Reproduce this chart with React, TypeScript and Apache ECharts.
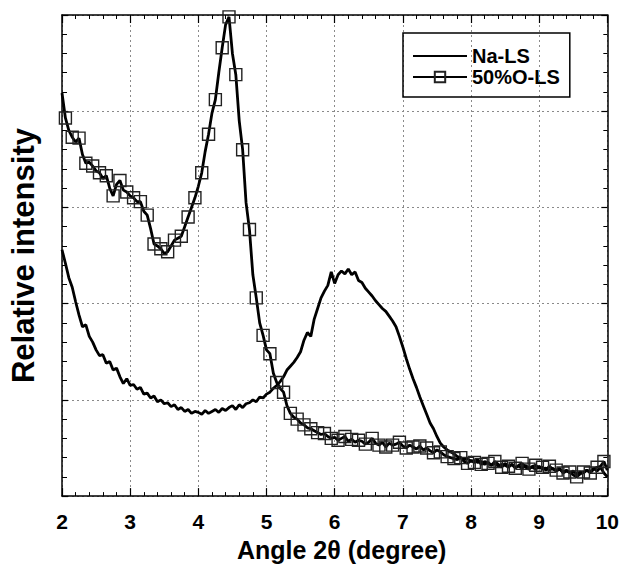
import React, { useEffect, useRef } from "react";
import * as echarts from "echarts";

const X_START = 2;
const X_STEP = 0.05;

const naLS = [
  2.56, 2.42, 2.27, 2.17, 2.02, 1.88, 1.76, 1.78, 1.66, 1.6, 1.52, 1.46, 1.47, 1.38, 1.4, 1.31, 1.33, 1.24, 1.17, 1.22,
  1.15, 1.16, 1.11, 1.13, 1.06, 1.07, 1.02, 1.04, 0.98, 1.0, 0.96, 0.97, 0.93, 0.95, 0.9, 0.92, 0.88, 0.9, 0.86, 0.88,
  0.87, 0.85, 0.89, 0.86, 0.88, 0.9, 0.87, 0.91, 0.89, 0.92, 0.94, 0.9, 0.95, 0.92, 0.96, 0.97, 1.0, 0.98, 1.03, 1.02,
  1.06, 1.08, 1.12, 1.15, 1.19, 1.24, 1.31, 1.35, 1.39, 1.44, 1.5, 1.62, 1.7, 1.66, 1.84, 1.95, 2.06, 2.13, 2.19, 2.33,
  2.21, 2.3, 2.34, 2.31, 2.36, 2.3, 2.33, 2.24, 2.22, 2.16, 2.12, 2.08, 2.03, 1.99, 1.95, 1.92, 1.87, 1.82, 1.76, 1.66,
  1.55, 1.43, 1.32, 1.22, 1.13, 1.03, 0.94, 0.85, 0.76, 0.7, 0.62, 0.55, 0.51, 0.48, 0.46, 0.44, 0.41, 0.4, 0.38, 0.39,
  0.36, 0.37, 0.35, 0.36, 0.33, 0.35, 0.32, 0.34, 0.31, 0.33, 0.32, 0.3, 0.33, 0.3, 0.31, 0.29, 0.32, 0.29, 0.3, 0.28,
  0.31, 0.28, 0.29, 0.27, 0.29, 0.26, 0.28, 0.25, 0.27, 0.24, 0.26, 0.23, 0.25, 0.24, 0.27, 0.25, 0.29, 0.26, 0.3, 0.24,
  0.2,
];

const olLS = [
  4.19, 3.93, 3.8, 3.73, 3.68, 3.72, 3.55, 3.46, 3.47, 3.43, 3.38, 3.36, 3.3, 3.33, 3.2, 3.12, 3.24, 3.28, 3.18, 3.16,
  3.12, 3.1, 3.06, 3.06, 2.96, 2.92, 2.78, 2.62, 2.6, 2.57, 2.52, 2.54, 2.6, 2.66, 2.68, 2.7, 2.8, 2.9, 3.0, 3.1,
  3.22, 3.36, 3.58, 3.76, 3.98, 4.12, 4.4, 4.66, 4.9, 4.98, 4.6, 4.38, 3.9, 3.6, 3.05, 2.77, 2.3, 2.06, 1.8, 1.67,
  1.52, 1.48, 1.28, 1.18, 1.12, 1.08, 0.94, 0.86, 0.82, 0.8, 0.76, 0.74, 0.71, 0.7, 0.68, 0.66, 0.64, 0.65, 0.62, 0.6,
  0.61, 0.58, 0.6, 0.62, 0.57, 0.59, 0.56, 0.58, 0.57, 0.54, 0.56, 0.6, 0.55, 0.53, 0.56, 0.51, 0.55, 0.53, 0.54, 0.56,
  0.52, 0.5, 0.53, 0.51, 0.49, 0.52, 0.48, 0.5, 0.47, 0.45, 0.48, 0.46, 0.43, 0.41, 0.4, 0.39, 0.38, 0.4, 0.36, 0.34,
  0.37, 0.35, 0.38, 0.33, 0.36, 0.34, 0.32, 0.36, 0.33, 0.3, 0.34, 0.31, 0.33, 0.29, 0.32, 0.34, 0.3, 0.28, 0.31, 0.32,
  0.29, 0.3, 0.27, 0.31, 0.28, 0.27, 0.29, 0.24, 0.26, 0.25, 0.22, 0.2, 0.23, 0.25, 0.27, 0.24, 0.28, 0.3, 0.31, 0.36,
  0.27,
];

const xTicks = [2, 3, 4, 5, 6, 7, 8, 9, 10];

const FONT = "'Liberation Sans', Arial, sans-serif";

export default function App() {
  const ref = useRef<HTMLDivElement>(null);
  useEffect(() => {
    if (!ref.current) return;
    const chart = echarts.init(ref.current, null, { renderer: "svg" });
    const xAt = (i: number) => +(X_START + i * X_STEP).toFixed(2);
    const naData = naLS.map((v, i) => [xAt(i), v]);
    const olData = olLS.map((v, i) => ({
      value: [xAt(i), v],
      symbol: i % 2 === 1 ? "rect" : "none",
    }));

    const gridLine = { show: true, lineStyle: { color: "#8a8a8a", type: [2, 3] as any, width: 1 } };
    const axisLine = { show: true, onZero: false, lineStyle: { color: "#000", width: 1.5 } };

    chart.setOption({
      animation: false,
      backgroundColor: "#fff",
      grid: { left: 59, right: 12, top: 15, bottom: 70, containLabel: false },
      legend: {
        show: true,
        left: 403,
        top: 33,
        orient: "vertical",
        borderColor: "#000",
        borderWidth: 1.5,
        borderRadius: 0,
        padding: [13, 10, 10, 9],
        itemWidth: 54,
        itemHeight: 13,
        itemGap: 1,
        textStyle: { fontFamily: FONT, fontWeight: "bold", fontSize: 20, color: "#000" },
        data: [
          { name: "Na-LS", itemStyle: { color: "rgba(0,0,0,0)", borderWidth: 0, opacity: 0 } },
          { name: "50%O-LS" },
        ],
      },
      xAxis: [
        {
          type: "value",
          min: 2,
          max: 10,
          interval: 1,
          position: "bottom",
          name: "Angle 2θ (degree)",
          nameLocation: "middle",
          nameGap: 36,
          nameTextStyle: { fontFamily: FONT, fontWeight: "bold", fontSize: 25, color: "#000", padding: [0, 0, 0, 14] },
          axisLine,
          axisTick: { show: true, inside: true, length: 8, lineStyle: { color: "#000", width: 1.2 } },
          minorTick: { show: true, splitNumber: 5, length: 4, lineStyle: { color: "#000", width: 1 } },
          axisLabel: {
            margin: 15,
            fontFamily: FONT,
            fontWeight: "bold",
            fontSize: 21,
            color: "#000",
            formatter: (v: number) => (xTicks.includes(v) ? String(v) : ""),
          },
          splitLine: gridLine,
        },
        {
          type: "value",
          min: 2,
          max: 10,
          interval: 1,
          position: "top",
          axisLine,
          axisTick: { show: true, inside: true, length: 8, lineStyle: { color: "#000", width: 1.2 } },
          minorTick: { show: true, splitNumber: 5, length: 4, lineStyle: { color: "#000", width: 1 } },
          axisLabel: { show: false },
          splitLine: { show: false },
        },
      ],
      yAxis: [
        {
          type: "value",
          min: 0,
          max: 5,
          interval: 1,
          position: "left",
          name: "Relative intensity",
          nameLocation: "middle",
          nameGap: 23,
          nameTextStyle: { fontFamily: FONT, fontWeight: "bold", fontSize: 31, color: "#000" },
          axisLine,
          axisTick: { show: true, inside: true, length: 6, lineStyle: { color: "#000", width: 1.2 } },
          minorTick: { show: true, splitNumber: 5, length: 5, lineStyle: { color: "#000", width: 1 } },
          axisLabel: { show: false },
          splitLine: gridLine,
        },
        {
          type: "value",
          min: 0,
          max: 5,
          interval: 1,
          position: "right",
          axisLine,
          axisTick: { show: true, inside: true, length: 6, lineStyle: { color: "#000", width: 1.2 } },
          minorTick: { show: true, splitNumber: 5, length: 4, lineStyle: { color: "#000", width: 1 } },
          axisLabel: { show: false },
          splitLine: { show: false },
        },
      ],
      series: [
        {
          name: "Na-LS",
          type: "line",
          data: naData,
          symbol: "none",
          lineStyle: { color: "#000", width: 2.8 },
          itemStyle: { color: "#000" },
          z: 3,
        },
        {
          name: "50%O-LS",
          type: "line",
          data: olData,
          symbol: "rect",
          symbolSize: 12,
          showAllSymbol: true,
          lineStyle: { color: "#000", width: 2.8 },
          itemStyle: { color: "rgba(255,255,255,0)", borderColor: "#222", borderWidth: 1.4 },
          z: 4,
        },
      ],
    });
    return () => chart.dispose();
  }, []);
  return (
    <div
      ref={ref}
      style={{ position: "absolute", left: 0, top: 0, width: 622, height: 567, background: "#fff" }}
    />
  );
}
